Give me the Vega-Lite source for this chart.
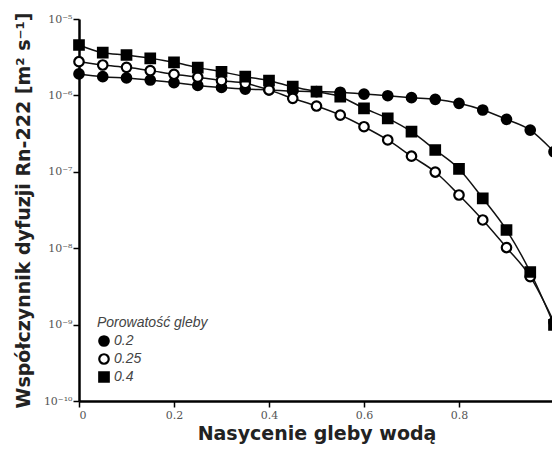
{
  "$schema": "https://vega.github.io/schema/vega-lite/v6.json",
  "width": 475,
  "height": 382,
  "autosize": {"type": "none"},
  "padding": {"left": 79, "top": 19, "right": 0, "bottom": 53},
  "background": "white",
  "config": {
    "view": {"stroke": null},
    "axis": {"grid": false, "domainColor": "black", "domainWidth": 2.5, "tickColor": "black", "tickWidth": 1.5, "tickSize": 6,
      "labelFont": "DejaVu Serif", "labelFontSize": 11, "labelColor": "#555555",
      "titleFont": "DejaVu Sans", "titleFontWeight": "bold", "titleFontSize": 19, "titleColor": "#222222"}
  },
  "data": {"values": [
    {"s": 0, "p": "0.2", "d": 1.91e-6}, {"s": 0.05, "p": "0.2", "d": 1.76e-6}, {"s": 0.1, "p": "0.2", "d": 1.69e-6}, {"s": 0.15, "p": "0.2", "d": 1.59e-6},
    {"s": 0.2, "p": "0.2", "d": 1.47e-6}, {"s": 0.25, "p": "0.2", "d": 1.35e-6}, {"s": 0.3, "p": "0.2", "d": 1.27e-6}, {"s": 0.35, "p": "0.2", "d": 1.21e-6},
    {"s": 0.4, "p": "0.2", "d": 1.18e-6}, {"s": 0.45, "p": "0.2", "d": 1.14e-6}, {"s": 0.5, "p": "0.2", "d": 1.12e-6}, {"s": 0.55, "p": "0.2", "d": 1.10e-6},
    {"s": 0.6, "p": "0.2", "d": 1.04e-6}, {"s": 0.65, "p": "0.2", "d": 9.9e-7}, {"s": 0.7, "p": "0.2", "d": 9.33e-7}, {"s": 0.75, "p": "0.2", "d": 8.89e-7},
    {"s": 0.8, "p": "0.2", "d": 7.88e-7}, {"s": 0.85, "p": "0.2", "d": 6.44e-7}, {"s": 0.9, "p": "0.2", "d": 4.86e-7}, {"s": 0.95, "p": "0.2", "d": 3.52e-7},
    {"s": 1.0, "p": "0.2", "d": 1.83e-7},
    {"s": 0, "p": "0.25", "d": 2.76e-6}, {"s": 0.05, "p": "0.25", "d": 2.50e-6}, {"s": 0.1, "p": "0.25", "d": 2.33e-6}, {"s": 0.15, "p": "0.25", "d": 2.11e-6},
    {"s": 0.2, "p": "0.25", "d": 1.89e-6}, {"s": 0.25, "p": "0.25", "d": 1.73e-6}, {"s": 0.3, "p": "0.25", "d": 1.56e-6}, {"s": 0.35, "p": "0.25", "d": 1.44e-6},
    {"s": 0.4, "p": "0.25", "d": 1.18e-6}, {"s": 0.45, "p": "0.25", "d": 9.16e-7}, {"s": 0.5, "p": "0.25", "d": 7.26e-7}, {"s": 0.55, "p": "0.25", "d": 5.53e-7},
    {"s": 0.6, "p": "0.25", "d": 3.89e-7}, {"s": 0.65, "p": "0.25", "d": 2.61e-7}, {"s": 0.7, "p": "0.25", "d": 1.60e-7}, {"s": 0.75, "p": "0.25", "d": 9.93e-8},
    {"s": 0.8, "p": "0.25", "d": 4.97e-8}, {"s": 0.85, "p": "0.25", "d": 2.34e-8}, {"s": 0.9, "p": "0.25", "d": 1.02e-8}, {"s": 0.95, "p": "0.25", "d": 4.24e-9},
    {"s": 1.0, "p": "0.25", "d": 1.08e-9},
    {"s": 0, "p": "0.4", "d": 4.57e-6}, {"s": 0.05, "p": "0.4", "d": 3.62e-6}, {"s": 0.1, "p": "0.4", "d": 3.38e-6}, {"s": 0.15, "p": "0.4", "d": 3.06e-6},
    {"s": 0.2, "p": "0.4", "d": 2.71e-6}, {"s": 0.25, "p": "0.4", "d": 2.31e-6}, {"s": 0.3, "p": "0.4", "d": 2.04e-6}, {"s": 0.35, "p": "0.4", "d": 1.76e-6},
    {"s": 0.4, "p": "0.4", "d": 1.56e-6}, {"s": 0.45, "p": "0.4", "d": 1.30e-6}, {"s": 0.5, "p": "0.4", "d": 1.12e-6}, {"s": 0.55, "p": "0.4", "d": 9.6e-7},
    {"s": 0.6, "p": "0.4", "d": 6.78e-7}, {"s": 0.65, "p": "0.4", "d": 5.01e-7}, {"s": 0.7, "p": "0.4", "d": 3.35e-7}, {"s": 0.75, "p": "0.4", "d": 1.93e-7},
    {"s": 0.8, "p": "0.4", "d": 1.09e-7}, {"s": 0.85, "p": "0.4", "d": 4.50e-8}, {"s": 0.9, "p": "0.4", "d": 1.73e-8}, {"s": 0.95, "p": "0.4", "d": 4.88e-9},
    {"s": 1.0, "p": "0.4", "d": 9.9e-10}
  ]},
  "encoding": {
    "x": {"field": "s", "type": "quantitative", "scale": {"domain": [0, 1]},
      "axis": {"title": "Nasycenie gleby wodą", "values": [0, 0.2, 0.4, 0.6, 0.8], "format": "~g", "labelPadding": 2, "titlePadding": 4}},
    "y": {"field": "d", "type": "quantitative", "scale": {"type": "log", "domain": [1e-10, 1e-5]},
      "axis": {"title": "Współczynnik dyfuzji Rn-222 [m² s⁻¹]", "values": [1e-10, 1e-9, 1e-8, 1e-7, 1e-6, 1e-5],
        "labelExpr": "datum.value > 5e-6 ? '10⁻⁵' : datum.value > 5e-7 ? '10⁻⁶' : datum.value > 5e-8 ? '10⁻⁷' : datum.value > 5e-9 ? '10⁻⁸' : datum.value > 5e-10 ? '10⁻⁹' : '10⁻¹⁰'",
        "labelPadding": 1, "titlePadding": 10}}
  },
  "layer": [
    {"mark": {"type": "line", "color": "#111111", "strokeWidth": 1.5, "interpolate": "monotone"},
     "encoding": {"detail": {"field": "p"}}},
    {"mark": {"type": "point", "opacity": 1, "strokeWidth": 2.2, "size": 90},
     "encoding": {
       "stroke": {"field": "p", "type": "nominal", "scale": {"domain": ["0.2", "0.25", "0.4"], "range": ["black", "black", "black"]},
         "legend": {"title": "Porowatość gleby"}},
       "shape": {"field": "p", "type": "nominal", "scale": {"domain": ["0.2", "0.25", "0.4"], "range": ["circle", "circle", "square"]},
         "legend": {"title": "Porowatość gleby", "orient": "none", "legendX": 18, "legendY": 297,
           "titleFont": "Liberation Sans", "titleFontStyle": "italic", "titleFontWeight": "normal", "titleFontSize": 14, "titleColor": "#444444",
           "labelFont": "Liberation Sans", "labelFontStyle": "italic", "labelFontSize": 14, "labelColor": "#444444",
           "symbolSize": 90, "symbolStrokeWidth": 2.2, "rowPadding": -2, "titlePadding": 4, "labelOffset": 3}},
       "fill": {"field": "p", "type": "nominal", "scale": {"domain": ["0.2", "0.25", "0.4"], "range": ["black", "white", "black"]},
         "legend": {"title": "Porowatość gleby"}}
     }}
  ]
}
